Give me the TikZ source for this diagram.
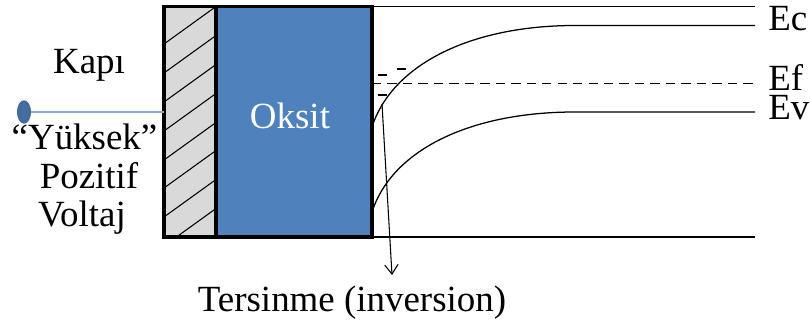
\documentclass[tikz,border=0pt]{standalone}
\usepackage{fontspec}
\setmainfont{Liberation Serif}
\usetikzlibrary{arrows.meta,shapes.geometric}
\definecolor{oxblue}{HTML}{4F81BD}
\definecolor{oxedge}{HTML}{3F6CA3}
\definecolor{wire}{HTML}{85A9D0}
\definecolor{gategray}{HTML}{D9D9D9}
\tikzset{
  x=0.75pt,y=-0.75pt,
  lbl/.style={font=\fontsize{27.7}{32}\selectfont,inner sep=0pt,text=black},
  thick box/.style={draw=black,line width=2.6pt,line join=miter,outer sep=0pt,inner sep=0pt,anchor=north west,minimum height=230.5*0.75pt},
  level/.style={draw=black,line width=0.95pt},
  hatch/.style={draw=black,line width=0.8pt},
  charge/.style={draw=black,line width=1.5pt},
}
\begin{document}
\begin{tikzpicture}
\useasboundingbox (0,0) rectangle (811,323);
% gate
\fill[gategray] (164,6.5) rectangle (216,237);
\begin{scope}
\clip (164,6.5) rectangle (216,237);
\foreach \y in {44,73,102,131,160,188,217,246,275}
  \draw[hatch] (164,\y) -- ++(52,-37.5);
\end{scope}
\node[thick box,minimum width=52*0.75pt] (gate) at (164,6.5) {};
\node[thick box,fill=oxblue,minimum width=156*0.75pt] (oxide) at (216,6.5) {};
\node[lbl,text=white,anchor=base] (oksit) at (290,129) {Oksit};
% coordinates
\coordinate (ctop) at (755,6.5);
\coordinate (cbot) at (755,237);
\coordinate (cfe) at (755,83.5);
\coordinate (cec) at (755,25.5);
\coordinate (cev) at (755,112);
\coordinate (oxtop) at (372,6.5);
\coordinate (oxbot) at (372,237);
\coordinate (oxfe) at (372,83.5);
\coordinate (ecs) at (372,127);
\coordinate (evs) at (372,212);
\draw[level] (oxtop) -- (ctop);
\draw[level] (oxbot) -- (cbot);
\draw[draw=black,line width=0.8pt,dash pattern=on 7pt off 4.6pt] (oxfe) -- (cfe);
\draw[level] (ecs) .. controls (392,65) and (470,25.5) .. (575,25.5) -- (cec);
\draw[level] (evs) .. controls (392,150) and (470,112) .. (575,112) -- (cev);
% charges
\draw[charge] (378,75.5) -- (387,75.5);
\draw[charge] (397,69.5) -- (406,69.5);
\draw[charge] (378,95) -- (387,95);
% inversion arrow
\node[lbl,anchor=base] (ters) at (352,312) {Tersinme (inversion)};
\coordinate (astart) at (382,104);
\coordinate (aend) at (392,275);
\draw[draw=black,line width=0.8pt,-{Straight Barb[length=7pt,width=10pt,line width=0.8pt]}] (astart) -- (aend);
% terminal
\node[ellipse,draw=oxedge,line width=1.5pt,fill=oxblue!85!black,minimum width=9pt,minimum height=16pt,inner sep=0pt] (term) at (24,112) {};
\draw[wire,line width=1pt] (term) -- (164,112);
% labels
\node[lbl,anchor=base] (kapi) at (89,74) {Kapı};
\node[lbl,anchor=base] (yuk) at (84.5,150) {“Yüksek”};
\node[lbl,anchor=base] (poz) at (89,189) {Pozitif};
\node[lbl,anchor=base] (vol) at (82,227) {Voltaj};
\node[lbl,anchor=base west] (ec) at (768,31) {Ec};
\node[lbl,anchor=base west] (ef) at (768,91) {Ef};
\node[lbl,anchor=base west] (ev) at (768,120) {Ev};
\end{tikzpicture}
\end{document}
